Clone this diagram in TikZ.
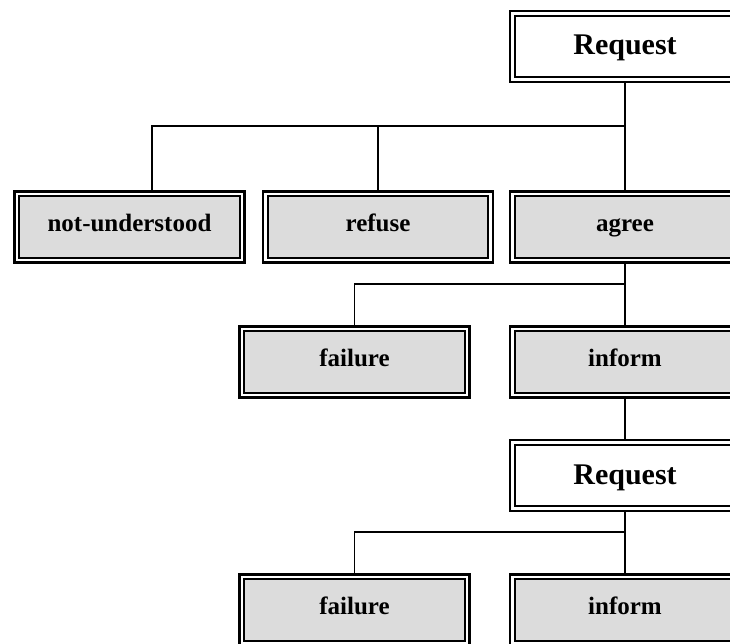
\documentclass[tikz,border=0pt]{standalone}
\usepackage{fontspec}
\setmainfont{Liberation Serif}
\definecolor{boxgray}{RGB}{220,220,220}
\begin{document}
\begin{tikzpicture}[x=1pt,y=1pt,
  box/.style={draw, line width=2.7pt, fill=white, minimum width=230pt, minimum height=71pt, inner sep=0pt,
    font=\bfseries\fontsize{25}{30}\selectfont, text height=14pt, text depth=5pt},
  innerwhite/.style={box, font=\bfseries\fontsize{30}{36}\selectfont, text height=22pt, text depth=5pt,
    path picture={\draw[line width=2pt] ([shift={(4.7pt,-4.7pt)}]path picture bounding box.north west) rectangle ([shift={(-4.7pt,4.7pt)}]path picture bounding box.south east);}},
  innergray/.style={box,
    path picture={\draw[line width=2pt, fill=boxgray] ([shift={(4.7pt,-4.7pt)}]path picture bounding box.north west) rectangle ([shift={(-4.7pt,4.7pt)}]path picture bounding box.south east);}},
  link/.style={line width=1.5pt}]
\clip (0,0) rectangle (730,643);
\coordinate (j1) at (625,517);
\coordinate (j2) at (625,359);
\coordinate (j3) at (625,111);
\node[innerwhite] (req1) at (625,596.5) {Request};
\node[innergray] (nu) at (129.5,416) {not-understood};
\node[innergray] (refuse) at (378,416) {refuse};
\node[innergray] (agree) at (625,416) {agree};
\node[innergray] (fail1) at (354.5,281) {failure};
\node[innergray] (inf1) at (625,281) {inform};
\node[innerwhite] (req2) at (625,167.5) {Request};
\node[innergray] (fail2) at (354.5,33) {failure};
\node[innergray] (inf2) at (625,33) {inform};
\draw[link] (req1.south) -- (agree.north);
\draw[link] (j1) -| ([xshift=22.5pt]nu.north);
\draw[link] (j1) -| (refuse.north);
\draw[link] (agree.south) -- (inf1.north);
\draw[link] (j2) -| (fail1.north);
\draw[link] (inf1.south) -- (req2.north);
\draw[link] (req2.south) -- (inf2.north);
\draw[link] (j3) -| (fail2.north);
\end{tikzpicture}
\end{document}
